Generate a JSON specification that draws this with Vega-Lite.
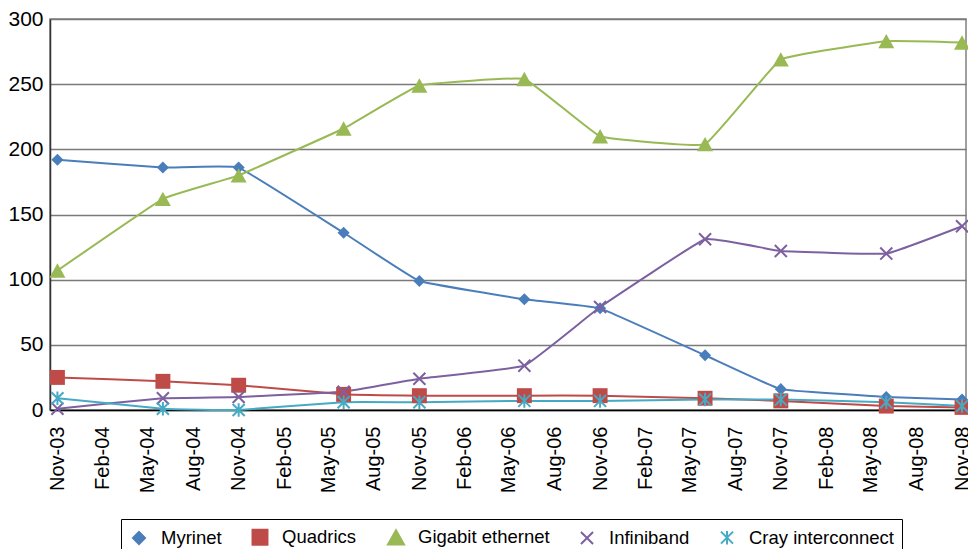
{
  "$schema": "https://vega.github.io/schema/vega-lite/v6.json",
  "width": 916,
  "height": 391,
  "padding": {"left": 7, "top": 8, "right": 2, "bottom": 0},
  "autosize": {"type": "pad"},
  "config": {
    "font": "Liberation Sans",
    "view": {"stroke": "#808080", "strokeWidth": 1.5},
    "axis": {"labelColor": "#000", "titleColor": "#000"}
  },
  "data": {
    "values": [
      {"date": "2003-11-01", "series": "Myrinet", "value": 192},
      {"date": "2004-06-01", "series": "Myrinet", "value": 186},
      {"date": "2004-11-01", "series": "Myrinet", "value": 186},
      {"date": "2005-06-01", "series": "Myrinet", "value": 136},
      {"date": "2005-11-01", "series": "Myrinet", "value": 99},
      {"date": "2006-06-01", "series": "Myrinet", "value": 85},
      {"date": "2006-11-01", "series": "Myrinet", "value": 78},
      {"date": "2007-06-01", "series": "Myrinet", "value": 42},
      {"date": "2007-11-01", "series": "Myrinet", "value": 16},
      {"date": "2008-06-01", "series": "Myrinet", "value": 10},
      {"date": "2008-11-01", "series": "Myrinet", "value": 8},
      {"date": "2003-11-01", "series": "Quadrics", "value": 25},
      {"date": "2004-06-01", "series": "Quadrics", "value": 22},
      {"date": "2004-11-01", "series": "Quadrics", "value": 19},
      {"date": "2005-06-01", "series": "Quadrics", "value": 12},
      {"date": "2005-11-01", "series": "Quadrics", "value": 11},
      {"date": "2006-06-01", "series": "Quadrics", "value": 11},
      {"date": "2006-11-01", "series": "Quadrics", "value": 11},
      {"date": "2007-06-01", "series": "Quadrics", "value": 9},
      {"date": "2007-11-01", "series": "Quadrics", "value": 7},
      {"date": "2008-06-01", "series": "Quadrics", "value": 3},
      {"date": "2008-11-01", "series": "Quadrics", "value": 2},
      {"date": "2003-11-01", "series": "Gigabit ethernet", "value": 107},
      {"date": "2004-06-01", "series": "Gigabit ethernet", "value": 162},
      {"date": "2004-11-01", "series": "Gigabit ethernet", "value": 180},
      {"date": "2005-06-01", "series": "Gigabit ethernet", "value": 216},
      {"date": "2005-11-01", "series": "Gigabit ethernet", "value": 249},
      {"date": "2006-06-01", "series": "Gigabit ethernet", "value": 254},
      {"date": "2006-11-01", "series": "Gigabit ethernet", "value": 210},
      {"date": "2007-06-01", "series": "Gigabit ethernet", "value": 204},
      {"date": "2007-11-01", "series": "Gigabit ethernet", "value": 269},
      {"date": "2008-06-01", "series": "Gigabit ethernet", "value": 283},
      {"date": "2008-11-01", "series": "Gigabit ethernet", "value": 282},
      {"date": "2003-11-01", "series": "Infiniband", "value": 1},
      {"date": "2004-06-01", "series": "Infiniband", "value": 9},
      {"date": "2004-11-01", "series": "Infiniband", "value": 10},
      {"date": "2005-06-01", "series": "Infiniband", "value": 14},
      {"date": "2005-11-01", "series": "Infiniband", "value": 24},
      {"date": "2006-06-01", "series": "Infiniband", "value": 34},
      {"date": "2006-11-01", "series": "Infiniband", "value": 79},
      {"date": "2007-06-01", "series": "Infiniband", "value": 131},
      {"date": "2007-11-01", "series": "Infiniband", "value": 122},
      {"date": "2008-06-01", "series": "Infiniband", "value": 120},
      {"date": "2008-11-01", "series": "Infiniband", "value": 141},
      {"date": "2003-11-01", "series": "Cray interconnect", "value": 9},
      {"date": "2004-06-01", "series": "Cray interconnect", "value": 1},
      {"date": "2004-11-01", "series": "Cray interconnect", "value": 0},
      {"date": "2005-06-01", "series": "Cray interconnect", "value": 6},
      {"date": "2005-11-01", "series": "Cray interconnect", "value": 6},
      {"date": "2006-06-01", "series": "Cray interconnect", "value": 7},
      {"date": "2006-11-01", "series": "Cray interconnect", "value": 7},
      {"date": "2007-06-01", "series": "Cray interconnect", "value": 8},
      {"date": "2007-11-01", "series": "Cray interconnect", "value": 8},
      {"date": "2008-06-01", "series": "Cray interconnect", "value": 6},
      {"date": "2008-11-01", "series": "Cray interconnect", "value": 3}
    ]
  },
  "encoding": {
    "x": {
      "field": "date",
      "type": "temporal",
      "scale": {"type": "utc", "domain": ["2003-10-17", "2008-11-09"]},
      "axis": {
        "title": null,
        "format": "%b-%y",
        "values": [
          {"year": 2003, "month": 11, "date": 1, "utc": true},
          {"year": 2004, "month": 2, "date": 1, "utc": true},
          {"year": 2004, "month": 5, "date": 1, "utc": true},
          {"year": 2004, "month": 8, "date": 1, "utc": true},
          {"year": 2004, "month": 11, "date": 1, "utc": true},
          {"year": 2005, "month": 2, "date": 1, "utc": true},
          {"year": 2005, "month": 5, "date": 1, "utc": true},
          {"year": 2005, "month": 8, "date": 1, "utc": true},
          {"year": 2005, "month": 11, "date": 1, "utc": true},
          {"year": 2006, "month": 2, "date": 1, "utc": true},
          {"year": 2006, "month": 5, "date": 1, "utc": true},
          {"year": 2006, "month": 8, "date": 1, "utc": true},
          {"year": 2006, "month": 11, "date": 1, "utc": true},
          {"year": 2007, "month": 2, "date": 1, "utc": true},
          {"year": 2007, "month": 5, "date": 1, "utc": true},
          {"year": 2007, "month": 8, "date": 1, "utc": true},
          {"year": 2007, "month": 11, "date": 1, "utc": true},
          {"year": 2008, "month": 2, "date": 1, "utc": true},
          {"year": 2008, "month": 5, "date": 1, "utc": true},
          {"year": 2008, "month": 8, "date": 1, "utc": true},
          {"year": 2008, "month": 11, "date": 1, "utc": true}
        ],
        "labelAngle": 270,
        "labelAlign": "right",
        "labelBaseline": "middle",
        "labelFontSize": 20,
        "labelPadding": 16,
        "labelOverlap": false,
        "labelFlush": false,
        "ticks": false,
        "grid": false,
        "domainColor": "#000",
        "domainWidth": 1.5
      }
    },
    "y": {
      "field": "value",
      "type": "quantitative",
      "scale": {"domain": [0, 300], "nice": false},
      "axis": {
        "title": null,
        "values": [0, 50, 100, 150, 200, 250, 300],
        "labelFontSize": 21,
        "labelPadding": 7,
        "ticks": false,
        "grid": true,
        "gridColor": "#7a7a7a",
        "gridWidth": 1.5,
        "domainColor": "#333",
        "domainWidth": 1.5
      }
    },
    "color": {
      "field": "series",
      "type": "nominal",
      "scale": {
        "domain": ["Myrinet", "Quadrics", "Gigabit ethernet", "Infiniband", "Cray interconnect"],
        "range": ["#4a7ebb", "#be4b48", "#98b954", "#7d60a0", "#46aac5"]
      },
      "legend": {
        "title": null,
        "orient": "none",
        "legendX": 71,
        "legendY": 500,
        "direction": "horizontal",
        "labelFontSize": 18.5,
        "labelColor": "#000",
        "symbolSize": 324,
        "symbolStrokeWidth": 2,
        "labelOffset": 12,
        "columnPadding": 26,
        "strokeColor": "#000",
        "padding": 8,
        "encode": {
          "symbols": {
            "update": {
              "stroke": {"signal": "scale('color', datum.value)"},
              "fill": {"signal": "datum.value==='Infiniband'||datum.value==='Cray interconnect'?'transparent':scale('color', datum.value)"}
            }
          }
        }
      }
    }
  },
  "layer": [
    {
      "mark": {"type": "line", "interpolate": "cardinal", "tension": 0.75, "strokeWidth": 2}
    },
    {
      "transform": [{"filter": "datum.series==='Myrinet'||datum.series==='Quadrics'||datum.series==='Gigabit ethernet'"}],
      "mark": {"type": "point", "filled": true, "size": 324, "opacity": 1, "strokeWidth": 2},
      "encoding": {
        "shape": {
          "field": "series",
          "type": "nominal",
          "scale": {
            "domain": ["Myrinet", "Quadrics", "Gigabit ethernet", "Infiniband", "Cray interconnect"],
            "range": [
              "M0,-0.67L0.67,0L0,0.67L-0.67,0Z",
              "M-0.83,-0.83L0.83,-0.83L0.83,0.83L-0.83,0.83Z",
              "M0,-0.8L0.89,0.8L-0.89,0.8Z",
              "M-0.67,-0.67L0.67,0.67M-0.67,0.67L0.67,-0.67",
              "M-0.67,-0.67L0.67,0.67M-0.67,0.67L0.67,-0.67M0,-0.75L0,0.75"
            ]
          }
        }
      }
    },
    {
      "transform": [{"filter": "datum.series==='Infiniband'||datum.series==='Cray interconnect'"}],
      "mark": {"type": "point", "filled": false, "size": 324, "opacity": 1, "strokeWidth": 2},
      "encoding": {
        "shape": {
          "field": "series",
          "type": "nominal",
          "scale": {
            "domain": ["Myrinet", "Quadrics", "Gigabit ethernet", "Infiniband", "Cray interconnect"],
            "range": [
              "M0,-0.67L0.67,0L0,0.67L-0.67,0Z",
              "M-0.83,-0.83L0.83,-0.83L0.83,0.83L-0.83,0.83Z",
              "M0,-0.8L0.89,0.8L-0.89,0.8Z",
              "M-0.67,-0.67L0.67,0.67M-0.67,0.67L0.67,-0.67",
              "M-0.67,-0.67L0.67,0.67M-0.67,0.67L0.67,-0.67M0,-0.75L0,0.75"
            ]
          }
        }
      }
    }
  ]
}
